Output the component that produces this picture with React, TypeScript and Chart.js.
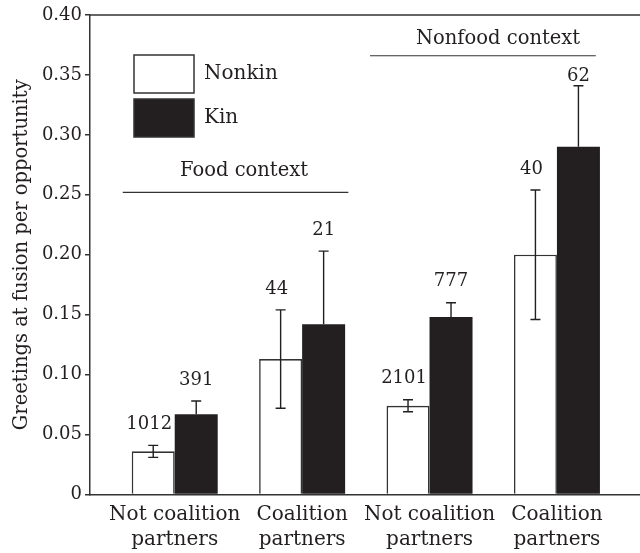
import React, { useEffect, useRef } from 'react';
import { Chart, registerables } from 'chart.js';

Chart.register(...registerables);

const categories = [
  ['Not coalition', 'partners'],
  ['Coalition', 'partners'],
  ['Not coalition', 'partners'],
  ['Coalition', 'partners'],
];
const seriesNames = ['Nonkin', 'Kin'];
const nonkinValues = [0.036, 0.113, 0.074, 0.2];
const nonkinErrors = [0.005, 0.041, 0.005, 0.054];
const kinValues = [0.067, 0.142, 0.148, 0.29];
const kinErrors = [0.011, 0.061, 0.012, 0.051];
const nonkinCounts = [1012, 44, 2101, 40];
const kinCounts = [391, 21, 777, 62];
const yTickValues = [0, 0.05, 0.1, 0.15, 0.2, 0.25, 0.3, 0.35, 0.4];
const contextLabels = ['Food context', 'Nonfood context'];
const yTitle = 'Greetings at fusion per opportunity';

const INK = '#231f20';
const LINE = '#333333';
const FONT = 'DejaVu Serif';

const annotationPlugin = {
  id: 'annotations',
  afterDatasetsDraw(chart: any) {
    const { ctx, chartArea, scales } = chart;
    const x = scales.x;
    const y = scales.y;
    ctx.save();

    // top frame line
    ctx.strokeStyle = LINE;
    ctx.lineWidth = 1.5;
    ctx.beginPath();
    ctx.moveTo(chartArea.left, chartArea.top);
    ctx.lineTo(chartArea.right, chartArea.top);
    ctx.stroke();

    // context annotations
    const ctxDefs = [
      { label: contextLabels[0], from: -0.408, to: 1.363, lineVal: 0.252, textX: 0.544, textVal: 0.2696 },
      { label: contextLabels[1], from: 1.533, to: 3.305, lineVal: 0.366, textX: 2.538, textVal: 0.38 },
    ];
    ctx.font = `19.5px "${FONT}"`;
    ctx.fillStyle = INK;
    ctx.textAlign = 'center';
    ctx.textBaseline = 'middle';
    ctx.lineWidth = 1.2;
    ctx.strokeStyle = LINE;
    ctxDefs.forEach((d) => {
      const ly = y.getPixelForValue(d.lineVal);
      ctx.beginPath();
      ctx.moveTo(x.getPixelForValue(d.from), ly);
      ctx.lineTo(x.getPixelForValue(d.to), ly);
      ctx.stroke();
      ctx.fillText(d.label, x.getPixelForValue(d.textX), y.getPixelForValue(d.textVal));
    });
    const nonfoodLineY = y.getPixelForValue(ctxDefs[1].lineVal);

    // error bars and counts
    const series = [
      { meta: chart.getDatasetMeta(0), vals: nonkinValues, errs: nonkinErrors, counts: nonkinCounts, both: true, dx: -4 },
      { meta: chart.getDatasetMeta(1), vals: kinValues, errs: kinErrors, counts: kinCounts, both: false, dx: 0 },
    ];
    ctx.strokeStyle = INK;
    ctx.lineWidth = 1.4;
    series.forEach((s) => {
      s.meta.data.forEach((el: any, i: number) => {
        const cx = el.x;
        const top = y.getPixelForValue(s.vals[i] + s.errs[i]);
        const bottom = s.both ? y.getPixelForValue(s.vals[i] - s.errs[i]) : y.getPixelForValue(s.vals[i]);
        ctx.beginPath();
        ctx.moveTo(cx, top);
        ctx.lineTo(cx, bottom);
        ctx.moveTo(cx - 5, top);
        ctx.lineTo(cx + 5, top);
        if (s.both) {
          ctx.moveTo(cx - 5, bottom);
          ctx.lineTo(cx + 5, bottom);
        }
        ctx.stroke();
        ctx.font = `18px "${FONT}"`;
        ctx.fillStyle = INK;
        ctx.textAlign = 'center';
        ctx.textBaseline = 'middle';
        const ty = Math.max(top - 21, nonfoodLineY + 21);
        ctx.fillText(String(s.counts[i]), cx + s.dx, ty);
      });
    });

    // legend
    const boxes = [
      { y: 55, fill: '#ffffff', label: seriesNames[0] },
      { y: 99, fill: INK, label: seriesNames[1] },
    ];
    boxes.forEach((b) => {
      ctx.fillStyle = b.fill;
      ctx.fillRect(134, b.y, 60, 38);
      ctx.strokeStyle = LINE;
      ctx.lineWidth = 1.5;
      ctx.strokeRect(134, b.y, 60, 38);
      ctx.fillStyle = INK;
      ctx.font = `20px "${FONT}"`;
      ctx.textAlign = 'left';
      ctx.textBaseline = 'middle';
      ctx.fillText(b.label, 204, b.y + 19);
    });

    ctx.restore();
  },
};

export default function App() {
  const canvasRef = useRef<HTMLCanvasElement | null>(null);

  useEffect(() => {
    document.body.style.margin = '0';
    const canvas = canvasRef.current;
    if (!canvas) return;
    const chart = new Chart(canvas, {
      type: 'bar',
      data: {
        datasets: [
          {
            label: seriesNames[0],
            data: nonkinValues.map((v, i) => ({ x: i, y: v })),
            backgroundColor: '#ffffff',
            borderColor: LINE,
            borderWidth: 1.6,
          },
          {
            label: seriesNames[1],
            data: kinValues.map((v, i) => ({ x: i, y: v })),
            backgroundColor: INK,
            borderColor: INK,
            borderWidth: 0,
          },
        ],
      },
      options: {
        animation: false,
        responsive: true,
        maintainAspectRatio: false,
        devicePixelRatio: 1,
        categoryPercentage: 0.675,
        barPercentage: 1,
        layout: { padding: { top: 15, right: 0, left: 0, bottom: 0 } },
        plugins: {
          legend: { display: false },
          tooltip: { enabled: false },
        },
        scales: {
          x: {
            type: 'linear',
            offset: false,
            min: -0.665,
            max: 3.652,
            afterBuildTicks: (s: any) => {
              s.ticks = categories.map((_, i) => ({ value: i }));
            },
            afterFit: (s: any) => {
              s.height = 58.5;
            },
            ticks: {
              autoSkip: false,
              maxRotation: 0,
              padding: 0,
              color: INK,
              font: { family: FONT, size: 20, lineHeight: 1.25 },
              callback: (v: any) => categories[Math.round(Number(v))] ?? '',
            },
            grid: { display: false, offset: false },
            border: { display: true, color: LINE, width: 1.5 },
          },
          y: {
            min: 0,
            max: 0.4,
            afterBuildTicks: (s: any) => {
              s.ticks = yTickValues.map((v) => ({ value: v }));
            },
            afterFit: (s: any) => {
              s.width = 90;
            },
            ticks: {
              padding: 3,
              color: INK,
              font: { family: FONT, size: 18 },
              callback: (v: any) => (Number(v) === 0 ? '0' : Number(v).toFixed(2)),
            },
            grid: {
              display: true,
              drawOnChartArea: false,
              drawTicks: true,
              tickLength: 5,
              tickColor: LINE,
              lineWidth: 1.5,
            },
            border: { display: true, color: LINE, width: 1.5 },
            title: {
              display: true,
              text: yTitle,
              color: INK,
              font: { family: FONT, size: 19.5 },
              padding: { top: 10.3, bottom: 0 },
            },
          },
        },
      },
      plugins: [annotationPlugin],
    });
    return () => chart.destroy();
  }, []);

  return (
    <div style={{ position: 'absolute', left: 0, top: 0, width: 640, height: 553 }}>
      <canvas ref={canvasRef} />
    </div>
  );
}
